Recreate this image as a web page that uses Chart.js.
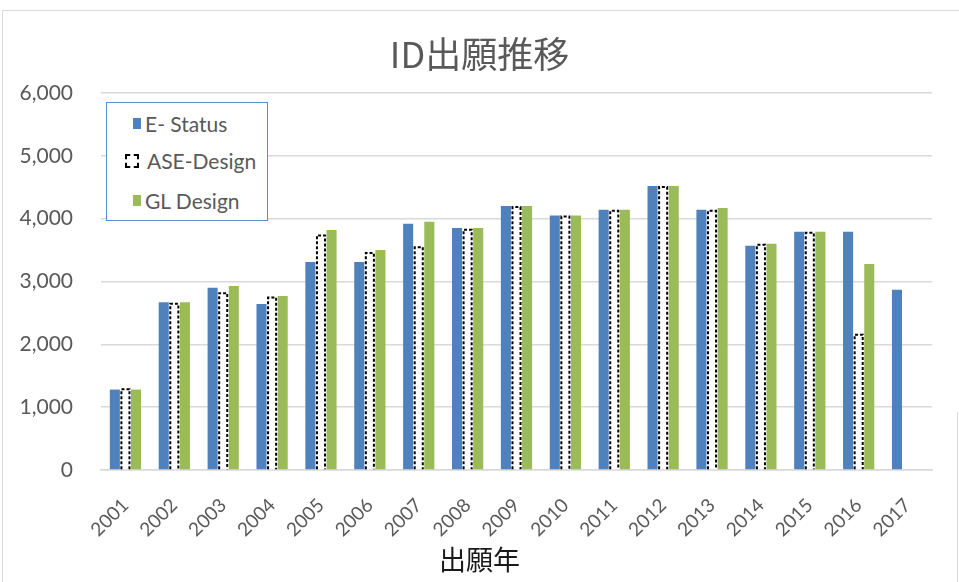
<!DOCTYPE html>
<html>
<head>
<meta charset="utf-8">
<script src="https://cdn.jsdelivr.net/npm/chart.js@4"></script>
<style>
  html, body { margin: 0; padding: 0; background: #fff; }
  #wrap { position: relative; width: 959px; height: 582px; overflow: hidden; }
  #frame { position: absolute; left: 2px; top: 10px; width: 980px; height: 600px; border: 1px solid #d9d9d9; }
  #rline { position: absolute; left: 957px; top: 412px; width: 1px; height: 170px; background: #d9d9d9; }
  #chartBox { position: absolute; left: 0; top: 0; width: 959px; height: 582px; }
  #legend {
    position: absolute; left: 106px; top: 102px; width: 160px; height: 117px;
    border: 1.5px solid #5b8bd0; background: #fff;
    font-family: Lato, "Noto Sans", sans-serif; font-size: 21px; color: #595959;
  }
  .item { position: absolute; left: 0; height: 24px; line-height: 24px; white-space: nowrap; }
  .mark { position: absolute; top: 7px; width: 8px; height: 11px; }
  .dash { border: 2px dashed #000; background: #fff; width: 14px; height: 14px; top: 5px; box-sizing: border-box; }
</style>
</head>
<body>
<div id="wrap">
  <div id="frame"></div>
  <div id="rline"></div>
  <div id="chartBox"><canvas id="idChart" width="959" height="582"></canvas></div>
  <div id="legend"></div>
</div>
<script>
let years = ["2001", "2002", "2003", "2004", "2005", "2006", "2007", "2008", "2009",
             "2010", "2011", "2012", "2013", "2014", "2015", "2016", "2017"];
let seriesNames = ["E- Status", "ASE-Design", "GL Design"];
let eStatus   = [1280, 2670, 2900, 2640, 3310, 3310, 3920, 3850, 4200, 4050, 4140, 4520, 4140, 3570, 3790, 3790, 2870];
let aseDesign = [1300, 2660, 2830, 2760, 3750, 3470, 3560, 3840, 4200, 4050, 4140, 4520, 4140, 3600, 3790, 2170, null];
let glDesign  = [1280, 2670, 2930, 2770, 3820, 3500, 3950, 3850, 4200, 4050, 4140, 4520, 4170, 3600, 3790, 3280, null];

const blue = "#4f81bd";
const green = "#9bbb59";
const gray = "#595959";

// dashed outline for the ASE-Design bars (bar elements have no borderDash)
const dashedBars = {
  id: "dashedBars",
  afterDatasetsDraw(chart) {
    const meta = chart.getDatasetMeta(1);
    const c = chart.ctx;
    c.save();
    c.strokeStyle = "#000";
    c.lineWidth = 2;
    c.setLineDash([3, 2]);
    meta.data.forEach((bar, i) => {
      if (aseDesign[i] == null) return;
      const p = bar.getProps(["x", "y", "base", "width"], true);
      const l = p.x - p.width / 2 + 1, r = p.x + p.width / 2 - 1;
      c.beginPath();
      c.moveTo(l, p.base);
      c.lineTo(l, p.y + 1);
      c.lineTo(r, p.y + 1);
      c.lineTo(r, p.base);
      c.stroke();
    });
    c.restore();
  }
};

document.addEventListener("DOMContentLoaded", function () {
  const ctx = document.getElementById("idChart");
  const chart = new Chart(ctx, {
    type: "bar",
    data: {
      labels: years,
      datasets: [
        { label: seriesNames[0], data: eStatus, backgroundColor: blue },
        { label: seriesNames[1], data: aseDesign, backgroundColor: "#fff" },
        { label: seriesNames[2], data: glDesign, backgroundColor: green },
      ],
    },
    options: {
      responsive: false,
      animation: false,
      layout: { padding: 0 },
      datasets: { bar: { categoryPercentage: 0.65, barPercentage: 0.95 } },
      plugins: {
        legend: { display: false },
        tooltip: { enabled: false },
        title: {
          display: true,
          text: "ID出願推移",
          color: gray,
          font: { family: "'Noto Sans CJK JP'", size: 36, weight: "normal", lineHeight: 1.2 },
          padding: { top: 32.4, bottom: 17.4 },
        },
        subtitle: {
          display: true,
          position: "bottom",
          text: "出願年",
          color: "#1a1a1a",
          font: { family: "'Noto Sans CJK JP'", size: 27, weight: "normal", lineHeight: 1.2 },
          padding: { top: 0, bottom: 5.8 },
        },
      },
      scales: {
        x: {
          grid: { display: false, drawTicks: false },
          border: { color: "#d9d9d9", width: 1.5 },
          ticks: {
            color: gray,
            font: { family: "Lato", size: 19 },
            minRotation: 45,
            maxRotation: 45,
            padding: 24,
            autoSkip: false,
          },
          afterFit: function (scale) { scale.height = 73.8; },
        },
        y: {
          min: 0,
          max: 6000,
          grid: { color: "#d9d9d9", lineWidth: 1.5, drawTicks: false },
          border: { display: false },
          ticks: {
            stepSize: 1000,
            color: gray,
            font: { family: "Lato", size: 21 },
            padding: 28,
            callback: (v) => v.toLocaleString("en-US"),
          },
          afterFit: function (scale) { scale.width = 101; },
        },
        // empty spacer on the right so the title stays centred on the page
        spacer: {
          position: "right",
          grid: { display: false, drawTicks: false },
          border: { display: false },
          ticks: { display: false },
          afterFit: function (scale) { scale.width = 27; },
        },
      },
    },
    plugins: [dashedBars],
  });

  // legend box inside the plot, built from the dataset names
  const legend = document.getElementById("legend");
  const rows = [
    { top: 9, mark: "background:" + blue + ";left:26px;top:6px", cls: "mark", textLeft: 38 },
    { top: 46, mark: "left:18px", cls: "mark dash", textLeft: 40 },
    { top: 86, mark: "background:" + green + ";left:26px;top:6px", cls: "mark", textLeft: 38 },
  ];
  chart.data.datasets.forEach((ds, i) => {
    const r = rows[i];
    const item = document.createElement("div");
    item.className = "item";
    item.style.top = r.top + "px";
    item.innerHTML = '<span class="' + r.cls + '" style="' + r.mark + '"></span>' +
      '<span style="position:absolute;left:' + r.textLeft + 'px">' + ds.label + "</span>";
    legend.appendChild(item);
  });
});
</script>
</body>
</html>
